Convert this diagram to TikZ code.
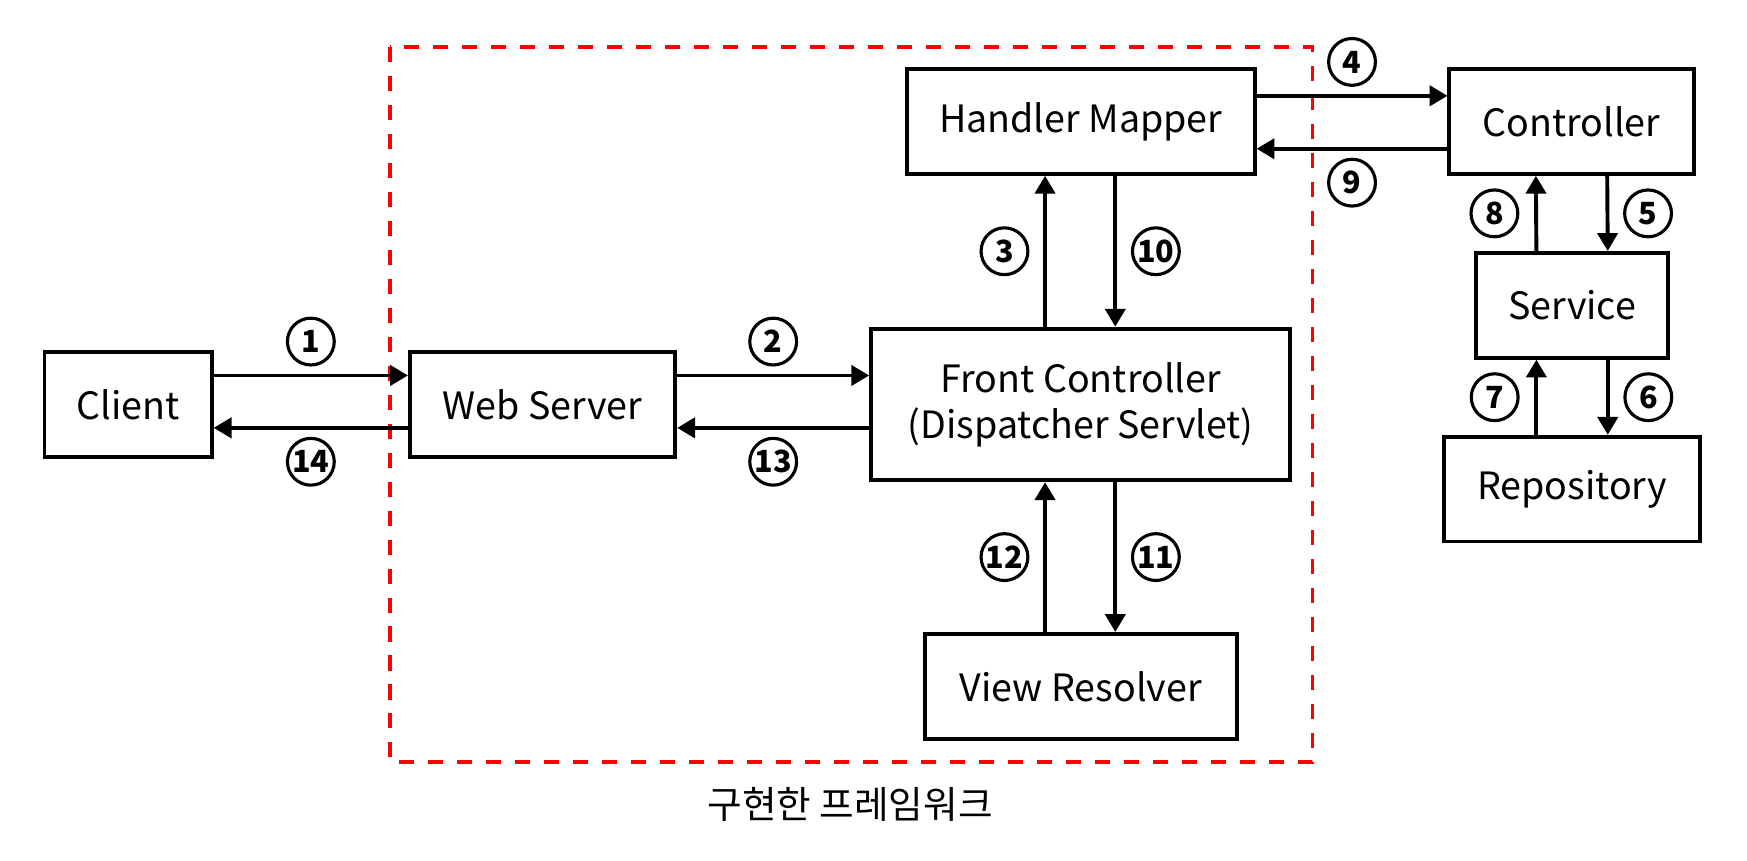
\documentclass[tikz,border=0pt]{standalone}
\usepackage{fontspec}
\setmainfont{Noto Sans CJK KR}
\usetikzlibrary{arrows.meta}

\tikzset{
  box/.style={draw, line width=1pt, inner sep=0pt, align=center,
    font=\fontsize{9.6}{11.7}\selectfont},
  num/.style={draw, circle, line width=0.8pt, inner sep=0pt, minimum size=0.42cm,
    font=\fontsize{7.8}{8}\selectfont\bfseries},
  arr/.style={line width=1pt, -{Triangle[length=0.16cm, width=0.18cm]}},
  frame/.style={red, line width=1pt, dash pattern=on 0.135cm off 0.125cm},
}

\begin{document}
\begin{tikzpicture}[x=0.01cm, y=-0.01cm]
\useasboundingbox (0,0) rectangle (1568,772);
\draw[frame] (350,42) rectangle (1178,684);

\node[box, minimum width=1.5cm, minimum height=0.94cm] (cl) at (115,363) {Client};
\node[box, minimum width=2.38cm, minimum height=0.94cm] (ws) at (487,363) {Web Server};
\node[box, minimum width=3.76cm, minimum height=1.36cm] (fc) at (970,363) {Front Controller\\(Dispatcher Servlet)};
\node[box, minimum width=3.12cm, minimum height=0.94cm] (hm) at (970,109) {Handler Mapper};
\node[box, minimum width=2.8cm, minimum height=0.94cm] (vr) at (970,616) {View Resolver};
\node[box, minimum width=2.19cm, minimum height=0.94cm] (ct) at (1410.5,109) {Controller};
\node[box, minimum width=1.72cm, minimum height=0.94cm] (sv) at (1411,274) {Service};
\node[box, minimum width=2.3cm, minimum height=0.94cm] (rp) at (1411,439) {Repository};
\node[font=\fontsize{9.6}{11}\selectfont] (cap) at (763,722) {구현한 프레임워크};

% request
\draw[arr] ([yshift=0.26cm]cl.east) to node[num, above=0.08cm] {1} ([yshift=0.26cm]ws.west);
\draw[arr] ([yshift=0.26cm]ws.east) to node[num, above=0.08cm] {2} ([yshift=0.26cm]fc.west);
\draw[arr] ([xshift=-0.32cm]fc.north) to node[num, left=0.14cm] {3} ([xshift=-0.32cm]hm.south);
\draw[arr] ([yshift=0.23cm]hm.east) to node[num, above=0.08cm] {4} ([yshift=0.23cm]ct.west);
\draw[arr] ([xshift=0.32cm]ct.south) to node[num, right=0.14cm] {5} ([xshift=0.32cm]sv.north);
\draw[arr] ([xshift=0.32cm]sv.south) to node[num, right=0.14cm] {6} ([xshift=0.32cm]rp.north);
% response
\draw[arr] ([xshift=-0.32cm]rp.north) to node[num, left=0.15cm] {7} ([xshift=-0.32cm]sv.south);
\draw[arr] ([xshift=-0.32cm]sv.north) to node[num, left=0.15cm] {8} ([xshift=-0.32cm]ct.south);
\draw[arr] ([yshift=-0.245cm]ct.west) to node[num, below=0.08cm] {9} ([yshift=-0.245cm]hm.east);
\draw[arr] ([xshift=0.31cm]hm.south) to node[num, right=0.14cm] {10} ([xshift=0.31cm]fc.north);
\draw[arr] ([xshift=0.31cm]fc.south) to node[num, right=0.14cm] {11} ([xshift=0.31cm]vr.north);
\draw[arr] ([xshift=-0.32cm]vr.north) to node[num, left=0.14cm] {12} ([xshift=-0.32cm]fc.south);
\draw[arr] ([yshift=-0.21cm]fc.west) to node[num, below=0.08cm] {13} ([yshift=-0.21cm]ws.east);
\draw[arr] ([yshift=-0.21cm]ws.west) to node[num, below=0.08cm] {14} ([yshift=-0.21cm]cl.east);
\end{tikzpicture}
\end{document}
